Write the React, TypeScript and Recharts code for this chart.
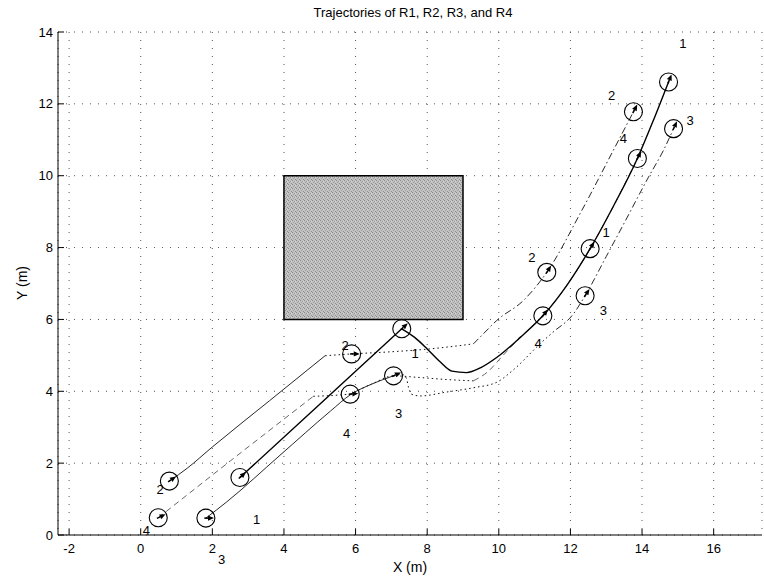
import { ComposedChart, Line, Scatter, XAxis, YAxis, CartesianGrid, ReferenceArea, ReferenceDot } from 'recharts'

const FONT = '"Liberation Sans", Arial, Helvetica, sans-serif'

const xTicks = [-2, 0, 2, 4, 6, 8, 10, 12, 14, 16]
const yTicks = [0, 2, 4, 6, 8, 10, 12, 14]

// obstacle corners [x1, x2, y1, y2]
const obstacle = [4, 9, 6, 10]

// R1 (solid)
const r1Approach: [number, number][] = [[2.77, 1.6], [5.0, 3.64], [7.29, 5.74]]
const r1Detour: [number, number][] = [
  [7.29, 5.74], [7.65, 5.5], [8.0, 5.18], [8.36, 4.82], [8.69, 4.56],
  [9.1, 4.52], [9.5, 4.66], [9.94, 4.94], [10.6, 5.5], [11.23, 6.1], [11.9, 6.95], [12.55, 7.97],
  [13.2, 9.15], [13.87, 10.48], [14.3, 11.5], [14.74, 12.61],
]

// R2
const r2Approach: [number, number][] = [[0.8, 1.5], [1.3, 1.86], [2.0, 2.45], [3.6, 3.74], [5.15, 4.99]]
const r2Cross: [number, number][] = [[5.15, 4.99], [5.89, 5.04], [7.0, 5.1], [8.08, 5.18], [9.29, 5.32]]
const r2Climb: [number, number][] = [
  [9.29, 5.32], [9.57, 5.6], [9.94, 5.97], [10.69, 6.53], [11.34, 7.31], [12.3, 9.0], [13.2, 10.71], [13.76, 11.78],
]

// R3
const r3Approach: [number, number][] = [
  [1.82, 0.47], [2.4, 0.92], [3.89, 2.22], [5.3, 3.45], [5.85, 3.9], [6.45, 4.2], [7.06, 4.43],
]
const r3Shift: [number, number][] = [
  [7.06, 4.43], [7.3, 4.47], [7.42, 4.36], [7.48, 4.1], [7.56, 3.92], [7.8, 3.87], [8.55, 3.98],
  [9.3, 4.1], [9.94, 4.25], [10.41, 4.6], [11.15, 5.32], [11.6, 5.72],
]
const r3Climb: [number, number][] = [
  [11.6, 5.72], [12.08, 6.15], [12.41, 6.66], [13.0, 7.75], [13.5, 8.68], [14.18, 9.96], [14.6, 10.71], [14.88, 11.31],
]

// R4
const r4Approach: [number, number][] = [[0.49, 0.48], [2.5, 2.06], [4.82, 3.86]]
const r4Cross: [number, number][] = [[4.82, 3.86], [5.3, 3.88], [5.85, 3.92]]
const r4Follow: [number, number][] = [
  [5.85, 3.92], [6.45, 4.2], [7.06, 4.43], [7.71, 4.39], [8.5, 4.33], [9.29, 4.29],
]
const r4Climb: [number, number][] = [
  [9.29, 4.29], [9.7, 4.55], [10.1, 4.98], [10.6, 5.5], [11.23, 6.1], [11.9, 6.95], [12.55, 7.97],
  [13.2, 9.15], [13.87, 10.48],
]

// robot poses [x, y, heading deg]
const posesStart: [number, number, number][] = [[2.77, 1.6, 42], [0.8, 1.5, 35], [1.82, 0.47, 0], [0.49, 0.48, 25]]
const posesObstacle: [number, number, number][] = [[7.29, 5.74, 42], [5.89, 5.04, 0], [7.06, 4.43, 25], [5.85, 3.92, 5]]
const posesTurn: [number, number, number][] = [[12.55, 7.97, 58], [11.34, 7.31, 57], [12.41, 6.66, 57], [11.23, 6.1, 52]]
const posesFinal: [number, number, number][] = [[14.74, 12.61, 68], [13.76, 11.78, 62], [14.88, 11.31, 65], [13.87, 10.48, 62]]

// robot number labels [text, x, y]
const robotLabels: [string, number, number][] = [
  ['2', 0.54, 1.27], ['4', 0.16, 0.13], ['1', 3.24, 0.42], ['3', 2.26, -0.67],
  ['2', 5.71, 5.27], ['1', 7.66, 5.04], ['3', 7.2, 3.37], ['4', 5.75, 2.83],
  ['1', 13.0, 8.43], ['2', 10.92, 7.73], ['3', 12.92, 6.25], ['4', 11.1, 5.32],
  ['1', 15.14, 13.68], ['2', 13.15, 12.24], ['4', 13.48, 11.03], ['3', 15.34, 11.54],
]

const toPts = (arr: [number, number][]) => arr.map(([x, y]) => ({ x, y }))
const robots = [...posesStart, ...posesObstacle, ...posesTurn, ...posesFinal].map(([x, y, heading]) => ({ x, y, heading }))

function RobotShape(props: any) {
  const { cx, cy, payload } = props
  const r = 9
  const a = (payload.heading * Math.PI) / 180
  const dx = Math.cos(a)
  const dy = -Math.sin(a)
  const tipX = cx + dx * r * 0.9
  const tipY = cy + dy * r * 0.9
  const bx = tipX - dx * 6
  const by = tipY - dy * 6
  const px = -dy * 2.6
  const py = dx * 2.6
  return (
    <g>
      <circle cx={cx} cy={cy} r={r} fill="none" stroke="#000" strokeWidth={1.1} />
      <line x1={cx - dx * 1.5} y1={cy - dy * 1.5} x2={bx} y2={by} stroke="#000" strokeWidth={1.6} />
      <polygon points={`${tipX},${tipY} ${bx + px},${by + py} ${bx - px},${by - py}`} fill="#000" />
    </g>
  )
}

function BottomTick({ x, y, payload }: any) {
  return (
    <g>
      <line x1={x} x2={x} y1={y} y2={y - 6} stroke="#000" />
      <text x={x} y={y + 18} textAnchor="middle" fontSize={13} fontFamily={FONT} fill="#000">
        {payload.value}
      </text>
    </g>
  )
}

function TopTick({ x, y }: any) {
  return <line x1={x} x2={x} y1={y} y2={y + 6} stroke="#000" />
}

function LeftTick({ x, y, payload }: any) {
  return (
    <g>
      <line x1={x} x2={x + 6} y1={y} y2={y} stroke="#000" />
      <text x={x - 5} y={y + 4.5} textAnchor="end" fontSize={13} fontFamily={FONT} fill="#000">
        {payload.value}
      </text>
    </g>
  )
}

function RightTick({ x, y }: any) {
  return <line x1={x} x2={x - 6} y1={y} y2={y} stroke="#000" />
}

const lineProps = {
  dataKey: 'y',
  stroke: '#111',
  dot: false,
  activeDot: false,
  isAnimationActive: false,
}

export default function App() {
  const dom: [number, number] = [-2.31, 17.35]
  return (
    <div style={{ position: 'absolute', left: 0, top: 0, width: 764, height: 580, background: '#fff', fontFamily: FONT }}>
      <div style={{ position: 'absolute', left: 413, top: 5, transform: 'translateX(-50%)', whiteSpace: 'nowrap', fontSize: 13 }}>
        Trajectories of R1, R2, R3, and R4
      </div>
      <div style={{ position: 'absolute', left: 410, top: 559, transform: 'translateX(-50%)', whiteSpace: 'nowrap', fontSize: 14 }}>
        X (m)
      </div>
      <div style={{ position: 'absolute', left: 22, top: 283, transform: 'translate(-50%, -50%) rotate(-90deg)', whiteSpace: 'nowrap', fontSize: 14 }}>
        Y (m)
      </div>
      <ComposedChart width={764} height={580} margin={{ top: 32, right: 2, bottom: 0, left: 0 }} style={{ position: 'absolute', left: 0, top: 0 }}>
        <defs>
          <pattern id="obst" patternUnits="userSpaceOnUse" width={4} height={4}>
            <rect width={4} height={4} fill="#c2c2c2" />
            <rect x={0} y={0} width={1} height={1} fill="#8a8a8a" />
            <rect x={2} y={1} width={1} height={1} fill="#969696" />
            <rect x={1} y={2} width={1} height={1} fill="#a0a0a0" />
            <rect x={3} y={3} width={1} height={1} fill="#8e8e8e" />
            <rect x={3} y={1} width={1} height={1} fill="#d6d6d6" />
          </pattern>
        </defs>
        <CartesianGrid stroke="#555" strokeDasharray="1 7" />
        <XAxis
          type="number"
          dataKey="x"
          domain={dom}
          ticks={xTicks}
          allowDataOverflow
          height={45}
          tickSize={0}
          tickMargin={0}
          tickLine={false}
          axisLine={{ stroke: '#000' }}
          tick={BottomTick}
          interval={0}
        />
        <XAxis
          xAxisId="top"
          orientation="top"
          type="number"
          dataKey="x"
          domain={dom}
          ticks={xTicks}
          allowDataOverflow
          height={0}
          tickSize={0}
          tickMargin={0}
          tickLine={false}
          axisLine={{ stroke: '#000' }}
          tick={TopTick}
          interval={0}
        />
        <YAxis
          type="number"
          dataKey="y"
          domain={[0, 14]}
          ticks={yTicks}
          allowDataOverflow
          width={58}
          tickSize={0}
          tickMargin={0}
          tickLine={false}
          axisLine={{ stroke: '#000' }}
          tick={LeftTick}
          interval={0}
        />
        <YAxis
          yAxisId="right"
          orientation="right"
          type="number"
          dataKey="y"
          domain={[0, 14]}
          ticks={yTicks}
          allowDataOverflow
          width={0}
          tickSize={0}
          tickMargin={0}
          tickLine={false}
          axisLine={{ stroke: '#000' }}
          tick={RightTick}
          interval={0}
        />
        <ReferenceArea
          x1={obstacle[0]}
          x2={obstacle[1]}
          y1={obstacle[2]}
          y2={obstacle[3]}
          fill="url(#obst)"
          fillOpacity={1}
          stroke="#000"
          strokeWidth={1.5}
        />

        <Line {...lineProps} type="monotone" data={toPts(r2Approach)} strokeWidth={0.9} />
        <Line {...lineProps} type="monotone" data={toPts(r2Cross)} strokeWidth={1} strokeDasharray="1.5 3" />
        <Line {...lineProps} type="monotone" data={toPts(r2Climb)} strokeWidth={0.9} strokeDasharray="7 3 1.5 3" />

        <Line {...lineProps} type="monotone" data={toPts(r3Approach)} strokeWidth={0.9} />
        <Line {...lineProps} type="monotone" data={toPts(r3Shift)} strokeWidth={1} strokeDasharray="1.5 3" />
        <Line {...lineProps} type="monotone" data={toPts(r3Climb)} strokeWidth={0.9} strokeDasharray="7 3 1.5 3" />

        <Line {...lineProps} type="monotone" data={toPts(r4Approach)} strokeWidth={0.9} strokeDasharray="6 4" stroke="#555" />
        <Line {...lineProps} type="monotone" data={toPts(r4Cross)} strokeWidth={1} strokeDasharray="1.5 3" />
        <Line {...lineProps} type="monotone" data={toPts(r4Follow)} strokeWidth={1} strokeDasharray="1.5 3" />
        <Line {...lineProps} type="monotone" data={toPts(r4Climb)} strokeWidth={0.9} strokeDasharray="6 4" stroke="#555" />

        <Line {...lineProps} type="linear" data={toPts(r1Approach)} strokeWidth={1.4} stroke="#000" />
        <Line {...lineProps} type="monotone" data={toPts(r1Detour)} strokeWidth={1.4} stroke="#000" />

        <Scatter data={robots} shape={RobotShape} isAnimationActive={false} />

        {robotLabels.map(([t, x, y], i) => (
          <ReferenceDot
            key={i}
            x={x}
            y={y}
            r={0}
            ifOverflow="visible"
            shape={(p: any) => (
              <text x={p.cx} y={p.cy + 4.5} textAnchor="middle" fontSize={13} fontFamily={FONT} fill="#000" stroke="none">
                {t}
              </text>
            )}
          />
        ))}
      </ComposedChart>
    </div>
  )
}
